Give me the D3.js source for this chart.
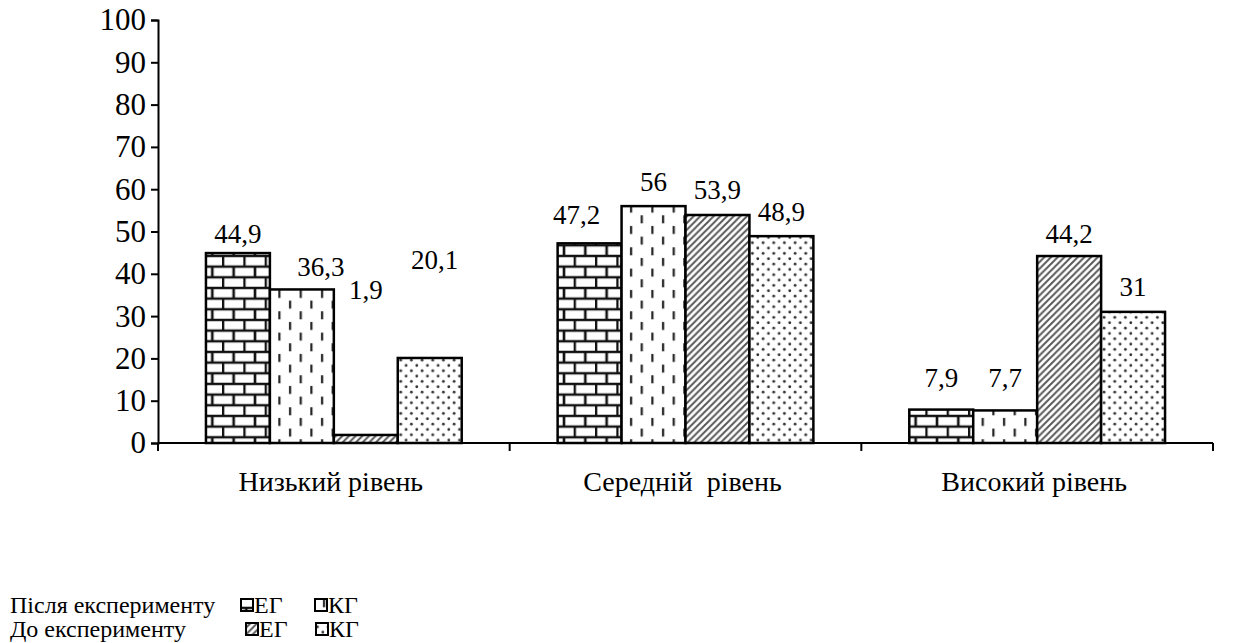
<!DOCTYPE html>
<html>
<head>
<meta charset="utf-8">
<script src="https://cdn.jsdelivr.net/npm/d3@7"></script>
<style>
  body { margin: 0; background: #fff; }
  svg { display: block; }
  svg text { font-family: "Liberation Serif", "DejaVu Serif", serif !important; }
</style>
</head>
<body>
<div id="chart"></div>
<script>
const categories = ['Низький рівень', 'Середній  рівень', 'Високий рівень'];
const seriesNames = ['afterEG', 'afterKG', 'beforeEG', 'beforeKG'];
const afterEG = [44.9, 47.2, 7.9];
const afterKG = [36.3, 56, 7.7];
const beforeEG = [1.9, 53.9, 44.2];
const beforeKG = [20.1, 48.9, 31];
const yTicks = [0, 10, 20, 30, 40, 50, 60, 70, 80, 90, 100];
// where each value label sits (in value units) and its sideways nudge, as in the picture
const labelAt = {
  afterEG: [49.6, 53.9, 15.4],
  afterKG: [41.6, 61.7, 15.4],
  beforeEG: [36.2, 59.8, 49.6],
  beforeKG: [43.3, 54.6, 37.1]
};
const labelDx = {
  afterEG: [0, -13, 0],
  afterKG: [19, 0, 0],
  beforeEG: [0, 0, 0],
  beforeKG: [5, 0, 0]
};
const legendRows = ['Після експерименту', 'До експерименту'];
const legendGroups = ['ЕГ', 'КГ'];

const values = { afterEG, afterKG, beforeEG, beforeKG };
const width = 1253, height = 643;
const margin = { top: 20, right: 40, bottom: 200, left: 158 };
const font = '"Liberation Serif", "DejaVu Serif", serif';

const svg = d3.select('#chart').append('svg')
  .attr('width', width)
  .attr('height', height)
  .attr('font-family', font);

// fill patterns
const defs = svg.append('defs');
const s = 21.33, h = s / 2;
const brick = defs.append('pattern').attr('id', 'p-afterEG')
  .attr('patternUnits', 'userSpaceOnUse').attr('width', s).attr('height', s);
brick.append('rect').attr('width', s).attr('height', s).attr('fill', '#fff');
brick.append('path')
  .attr('d', `M0,0H${s}M0,${h}H${s}M0,${s}H${s}M1,0V${h}M${h + 1},${h}V${s}`)
  .attr('stroke', '#111').attr('stroke-width', 2.6);

const dash = defs.append('pattern').attr('id', 'p-afterKG')
  .attr('patternUnits', 'userSpaceOnUse').attr('width', s).attr('height', s);
dash.append('rect').attr('width', s).attr('height', s).attr('fill', '#fff');
dash.append('rect').attr('x', 3).attr('y', 2).attr('width', 2.2).attr('height', 8).attr('fill', '#222');
dash.append('rect').attr('x', 3 + h).attr('y', 2 + h).attr('width', 2.2).attr('height', 8).attr('fill', '#222');

const d = 6.67;
const diag = defs.append('pattern').attr('id', 'p-beforeEG')
  .attr('patternUnits', 'userSpaceOnUse').attr('width', d).attr('height', d);
diag.append('rect').attr('width', d).attr('height', d).attr('fill', '#fff');
diag.append('path')
  .attr('d', `M0,${d}L${d},0M-2,2L2,-2M${d - 2},${d + 2}L${d + 2},${d - 2}`)
  .attr('stroke', '#555').attr('stroke-width', 1.9);

const g2 = 10.67;
const dots = defs.append('pattern').attr('id', 'p-beforeKG')
  .attr('patternUnits', 'userSpaceOnUse').attr('width', g2).attr('height', g2);
dots.append('rect').attr('width', g2).attr('height', g2).attr('fill', '#fff');
dots.append('circle').attr('cx', 2.7).attr('cy', 2.7).attr('r', 1.4).attr('fill', '#333');
dots.append('circle').attr('cx', 8).attr('cy', 8).attr('r', 1.4).attr('fill', '#333');

// scales
const x0 = d3.scaleBand()
  .domain(categories)
  .range([margin.left, width - margin.right])
  .paddingInner(0).paddingOuter(0);
const x1 = d3.scaleBand()
  .domain(seriesNames)
  .range([0, x0.bandwidth()])
  .paddingInner(0).paddingOuter(0.75);
const y = d3.scaleLinear()
  .domain([0, 100])
  .range([height - margin.bottom, margin.top]);

// y axis
const yAxis = svg.append('g')
  .attr('transform', `translate(${margin.left},0)`)
  .call(d3.axisLeft(y).tickValues(yTicks).tickSize(7).tickPadding(5));
yAxis.attr('font-family', font).attr('font-size', null);
yAxis.select('.domain').attr('stroke', '#000').attr('stroke-width', 2);
yAxis.selectAll('.tick line').attr('stroke', '#000').attr('stroke-width', 2);
yAxis.selectAll('.tick text').attr('font-size', 31).attr('fill', '#000');

// bars
const groups = svg.append('g').selectAll('g')
  .data(categories)
  .join('g')
  .attr('transform', c => `translate(${x0(c)},0)`);

groups.selectAll('rect')
  .data((c, i) => seriesNames.map(k => ({ key: k, value: values[k][i], i })))
  .join('rect')
  .attr('x', e => x1(e.key))
  .attr('y', e => y(e.value))
  .attr('width', x1.bandwidth())
  .attr('height', e => y(0) - y(e.value))
  .attr('fill', e => `url(#p-${e.key})`)
  .attr('stroke', '#000')
  .attr('stroke-width', 2.5);

groups.selectAll('text')
  .data((c, i) => seriesNames.map(k => ({ key: k, value: values[k][i], i })))
  .join('text')
  .attr('x', e => x1(e.key) + x1.bandwidth() / 2 + labelDx[e.key][e.i])
  .attr('y', e => y(labelAt[e.key][e.i]))
  .attr('dy', '0.35em')
  .attr('text-anchor', 'middle')
  .attr('font-size', 27)
  .attr('fill', '#000')
  .text(e => String(e.value).replace('.', ','));

// x axis: baseline with ticks at category boundaries
const xAxisG = svg.append('g').attr('transform', `translate(0,${y(0)})`);
xAxisG.append('line')
  .attr('x1', margin.left).attr('x2', width - margin.right)
  .attr('stroke', '#000').attr('stroke-width', 2);
const bounds = categories.map(c => x0(c)).concat([x0(categories[2]) + x0.bandwidth()]);
xAxisG.selectAll('.xt')
  .data(bounds)
  .join('line')
  .attr('class', 'xt')
  .attr('x1', b => b).attr('x2', b => b)
  .attr('y1', 0).attr('y2', 8)
  .attr('stroke', '#000').attr('stroke-width', 2);
xAxisG.selectAll('.xl')
  .data(categories)
  .join('text')
  .attr('class', 'xl')
  .attr('x', c => x0(c) + x0.bandwidth() / 2 - 3)
  .attr('y', 38)
  .attr('dy', '0.35em')
  .attr('text-anchor', 'middle')
  .attr('font-size', 28)
  .attr('fill', '#000')
  .style('white-space', 'pre')
  .text(c => c);

// legend
const legend = svg.append('g');
const rowY = [605, 629];
const boxX = [[241, 315], [246, 316]];
legendRows.forEach((label, r) => {
  legend.append('text')
    .attr('x', 10).attr('y', rowY[r]).attr('dy', '0.35em')
    .attr('font-size', 24).attr('fill', '#000')
    .text(label);
  legendGroups.forEach((grp, j) => {
    const key = seriesNames[r * 2 + j];
    legend.append('rect')
      .attr('x', boxX[r][j]).attr('y', rowY[r] - 6)
      .attr('width', 12).attr('height', 12)
      .attr('fill', `url(#p-${key})`)
      .attr('stroke', '#000').attr('stroke-width', 2);
    legend.append('text')
      .attr('x', boxX[r][j] + 13).attr('y', rowY[r]).attr('dy', '0.35em')
      .attr('font-size', 24).attr('fill', '#000')
      .text(grp);
  });
});
</script>
</body>
</html>
